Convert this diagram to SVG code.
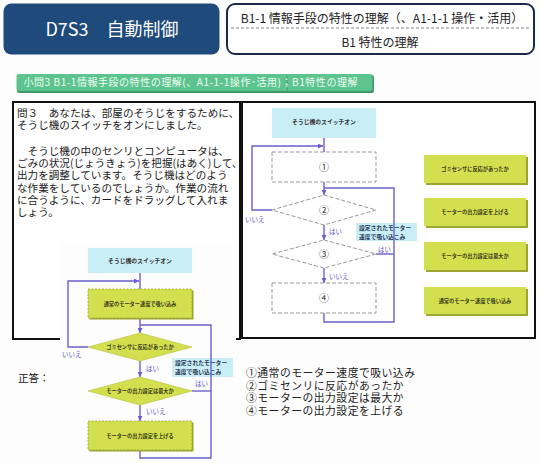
<svg xmlns="http://www.w3.org/2000/svg" width="540" height="463" viewBox="0 0 540 463">
<style>
.jp{font-family:"Noto Sans CJK JP","Noto Sans",sans-serif;}
.q{font-size:10.6px;fill:#1a1a1a;}
.lbl{font-size:6.5px;fill:#5b50c8;}
.conn{stroke:#6a5fd0;stroke-width:1.4;fill:none;}
.card{fill:#d3df4e;}
.cshadow{fill:#9ea633;}
.ct{font-size:5.2px;font-weight:bold;fill:#3a3a1a;text-anchor:middle;}
.st{font-size:5.8px;font-weight:bold;fill:#333;text-anchor:middle;}
.blue{fill:#c9eef6;}
.callt{font-size:5.8px;font-weight:bold;fill:#2a3a5a;}
.dash{fill:#fff;stroke:#999;stroke-width:1;stroke-dasharray:4 2;}
.ans{font-size:10.8px;letter-spacing:0.5px;fill:#222;}
.num{font-size:10px;fill:#333;text-anchor:middle;}
</style>
<defs>
<marker id="arr" viewBox="0 0 6 6" refX="6" refY="3" markerWidth="5" markerHeight="5" orient="auto" markerUnits="userSpaceOnUse">
<path d="M0,0 L6,3 L0,6 z" fill="#6a5fd0"/>
</marker>
</defs>
<rect width="540" height="463" fill="#fdfdfd"/>

<g id="header-title">
<rect x="3.5" y="3.5" width="216" height="51" rx="8" fill="#1e4a7c"/>
<text x="112" y="36" class="jp" font-family="Liberation Sans,Noto Sans CJK JP,sans-serif" font-size="18" fill="#fff" text-anchor="middle">D7S3　自動制御</text>
</g>
<g id="header-goal">
<rect x="227" y="4" width="307" height="50" rx="8" fill="#fff" stroke="#1b2a4a" stroke-width="2"/>
<line x1="231" y1="28" x2="530" y2="28" stroke="#888" stroke-width="1" stroke-dasharray="3 2"/>
<text x="382" y="23" class="jp" font-size="12" fill="#222" text-anchor="middle">B1-1 情報手段の特性の理解（、A1-1-1 操作・活用）</text>
<text x="380" y="47" class="jp" font-size="12" fill="#222" text-anchor="middle">B1 特性の理解</text>
</g>

<g id="subtitle-bar">
<rect x="17" y="75" width="357" height="18" rx="2" fill="#3f9a6a"/>
<rect x="16.5" y="74" width="356" height="17" rx="2" fill="#5ec48f"/>
<line x1="287" y1="75" x2="287" y2="91" stroke="#3f9a6a" stroke-width="0.8"/>
<text x="23.5" y="86" class="jp" font-size="10" fill="#eefff4" textLength="334" lengthAdjust="spacing">小問3  B1-1情報手段の特性の理解(、A1-1-1操作･活用)；B1特性の理解</text>
</g>

<g id="question-box">
<rect x="13" y="102" width="227" height="237" fill="#fff" stroke="#111" stroke-width="2"/>
<g class="jp q">
<text x="17" y="116.5">問３　あなたは、部屋のそうじをするために、</text>
<text x="17" y="128.8">そうじ機のスイッチをオンにしました。</text>
<text x="17" y="154.8">　そうじ機の中のセンリとコンピュータは、</text>
<text x="17" y="167.1">ごみの状況(じょうきょう)を把握(はあく)して、</text>
<text x="17" y="179.4">出力を調整しています。そうじ機はどのよう</text>
<text x="17" y="191.7">な作業をしているのでしょうか。作業の流れ</text>
<text x="17" y="204">に合うように、カードをドラッグして入れま</text>
<text x="17" y="216.3">しょう。</text>
</g>
</g>

<g id="flow-panel">
<rect x="242" y="102" width="293" height="236" fill="#fff" stroke="#111" stroke-width="2"/>
</g>

<g id="connectors-right">
<path class="conn" d="M324,138 V152"/>
<path class="conn" d="M272,210 H252 V146 H323" marker-end="url(#arr)"/>
<path class="conn" d="M324,182 V195" marker-end="url(#arr)"/>
<path class="conn" d="M324,313 V322 H394 V188 H324"/>
<path class="conn" d="M376,254 H394"/>
<path class="conn" d="M324,225 V240" marker-end="url(#arr)"/>
<path class="conn" d="M324,268 V283" marker-end="url(#arr)"/>
</g>

<g id="r-start"><rect x="272" y="108" width="104" height="30" class="blue"/><text x="324" y="124" class="jp st">そうじ機のスイッチオン</text></g>
<g id="r-slot1"><rect x="272" y="152" width="104" height="30" class="dash"/><text x="324" y="170.5" class="jp num">①</text></g>
<g id="r-slot2"><polygon points="324,195 376,210 324,225 272,210" class="dash"/><text x="324" y="213.5" class="jp num">②</text></g>
<g id="r-slot3"><polygon points="324,240 376,254 324,268 272,254" class="dash"/><text x="324" y="257.5" class="jp num">③</text></g>
<g id="r-slot4"><rect x="272" y="283" width="104" height="30" class="dash"/><text x="324" y="301.5" class="jp num">④</text></g>
<g id="r-callout"><rect x="356" y="223" width="61" height="18" class="blue"/>
<text x="359" y="230" class="jp callt">設定されたモーター</text><text x="359" y="238.5" class="jp callt">速度で吸い込こみ</text></g>
<g id="r-labels" class="jp lbl">
<text x="245" y="222">いいえ</text>
<text x="329" y="234">はい</text>
<text x="378" y="251.5">はい</text>
<text x="329" y="278.5">いいえ</text>
</g>
<path class="conn" d="M394,223 V241"/>

<g id="card1"><rect x="426" y="157" width="102" height="28" class="cshadow"/><rect x="424" y="155" width="102" height="28" class="card"/><text x="475" y="171" class="jp ct">ゴミセンサに反応があったか</text></g>
<g id="card2"><rect x="426" y="200" width="102" height="28" class="cshadow"/><rect x="424" y="198" width="102" height="28" class="card"/><text x="475" y="214" class="jp ct">モーターの出力設定を上げる</text></g>
<g id="card3"><rect x="426" y="244" width="102" height="28" class="cshadow"/><rect x="424" y="242" width="102" height="28" class="card"/><text x="475" y="258" class="jp ct">モーターの出力設定は最大か</text></g>
<g id="card4"><rect x="426" y="289" width="102" height="27" class="cshadow"/><rect x="424" y="287" width="102" height="27" class="card"/><text x="475" y="302.5" class="jp ct">通常のモーター速度で吸い込み</text></g>

<g id="answer-chart">
<rect x="60" y="243" width="176" height="220" fill="#fdfdfd"/>
</g>
<g id="connectors-answer">
<path class="conn" d="M140,273 V289"/>
<path class="conn" d="M88,347 H68 V281 H139" marker-end="url(#arr)"/>
<path class="conn" d="M140,318 V333" marker-end="url(#arr)"/>
<path class="conn" d="M140,450 V458 H211 V325 H140"/>
<path class="conn" d="M192,391 H211"/>
<path class="conn" d="M140,361 V377" marker-end="url(#arr)"/>
<path class="conn" d="M140,405 V421" marker-end="url(#arr)"/>
</g>
<g id="a-start"><rect x="88" y="248" width="104" height="25" class="blue"/><text x="140" y="262.5" class="jp st">そうじ機のスイッチオン</text></g>
<g id="a-step1"><rect x="89.5" y="290.5" width="104" height="29" class="cshadow"/><rect x="88" y="289" width="104" height="29" class="card" stroke="#8f9a2e" stroke-width="0.7" stroke-dasharray="2 1.5"/><text x="140" y="305.5" class="jp ct">通常のモーター速度で吸い込み</text></g>
<g id="a-dec1"><polygon points="140,333 192,347 140,361 88,347" class="card" stroke="#b5c03a" stroke-width="0.6"/><text x="140" y="349" class="jp ct">ゴミセンサに反応があったか</text></g>
<g id="a-dec2"><polygon points="140,377 192,391 140,405 88,391" class="card" stroke="#b5c03a" stroke-width="0.6"/><text x="140" y="393" class="jp ct">モーターの出力設定は最大か</text></g>
<g id="a-step2"><rect x="89.5" y="422.5" width="104" height="29" class="cshadow"/><rect x="88" y="421" width="104" height="29" class="card" stroke="#8f9a2e" stroke-width="0.7" stroke-dasharray="2 1.5"/><text x="140" y="437.5" class="jp ct">モーターの出力設定を上げる</text></g>
<g id="a-callout"><rect x="172" y="358" width="61" height="19" class="blue"/>
<text x="175" y="365" class="jp callt">設定されたモーター</text><text x="175" y="374" class="jp callt">速度で吸い込こみ</text></g>
<path class="conn" d="M211,358 V377"/>
<g id="a-labels" class="jp lbl">
<text x="62" y="356.5">いいえ</text>
<text x="146" y="370.5">はい</text>
<text x="195" y="386">はい</text>
<text x="146" y="414">いいえ</text>
</g>

<g id="answer-text" class="jp">
<text x="18" y="382" font-size="10.5" fill="#222">正答：</text>
<text x="246" y="376.9" class="ans">①通常のモーター速度で吸い込み</text>
<text x="246" y="389.5" class="ans">②ゴミセンリに反応があったか</text>
<text x="246" y="402.1" class="ans">③モーターの出力設定は最大か</text>
<text x="246" y="414.7" class="ans">④モーターの出力設定を上げる</text>
</g>
</svg>
